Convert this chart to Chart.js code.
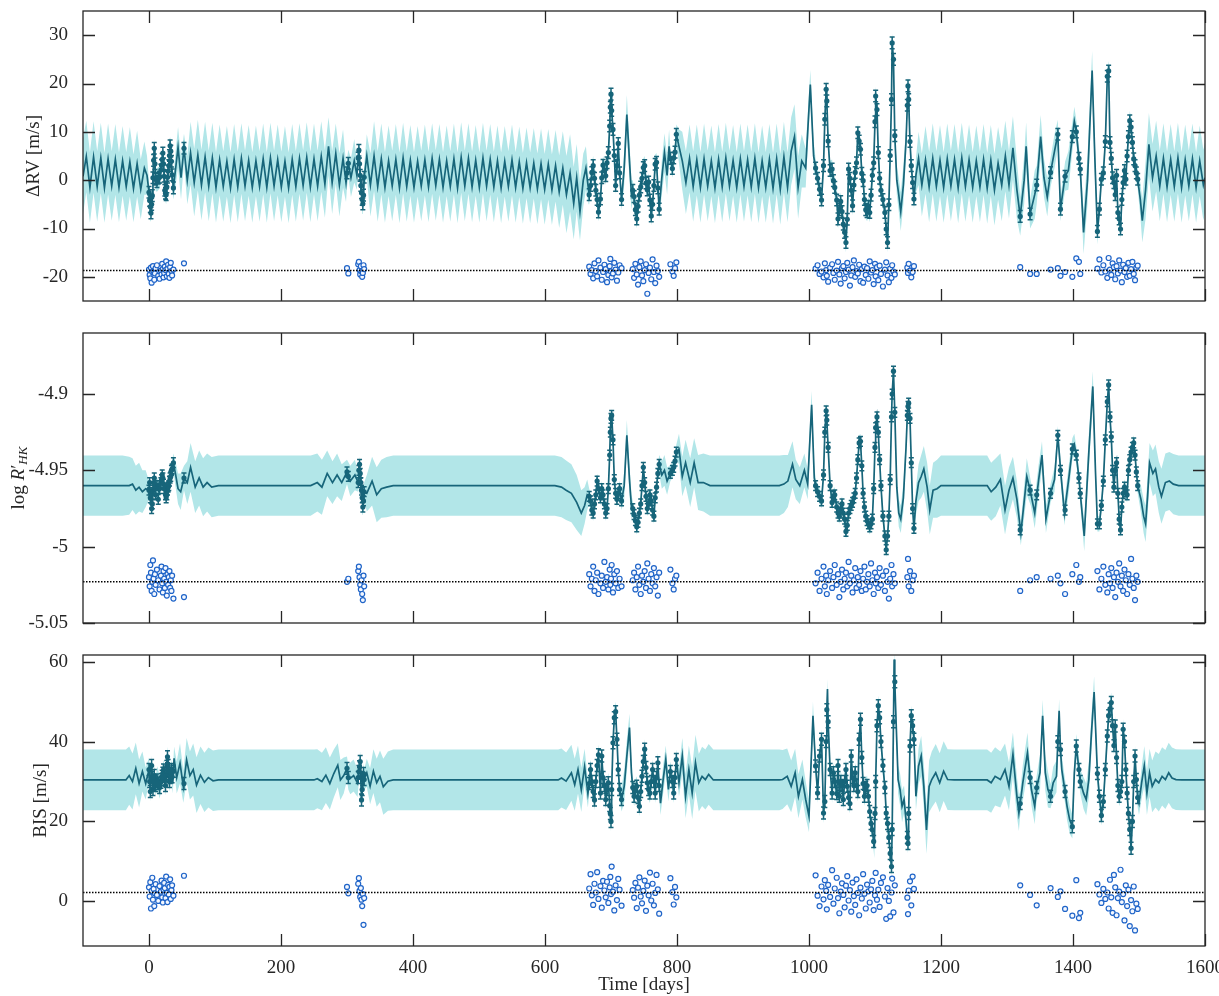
<!DOCTYPE html>
<html lang="en">
<head>
<meta charset="UTF-8">
<title>GP fit: RV, log R'HK, BIS</title>
<script src="https://cdn.jsdelivr.net/npm/chart.js"></script>
<style>
  body { margin: 0; background: #fff; }
  #wrap { position: relative; width: 1219px; height: 996px; }
  canvas { position: absolute; left: 0; }
</style>
</head>
<body>
<div id="wrap">
  <canvas id="c1" width="1219" height="322" style="top:0px"></canvas>
  <canvas id="c2" width="1219" height="322" style="top:322px"></canvas>
  <canvas id="c3" width="1219" height="352" style="top:644px"></canvas>
</div>
<script>
// ---- axes ----
const xTicks = [0, 200, 400, 600, 800, 1000, 1200, 1400, 1600];
const rvTicks = [-20, -10, 0, 10, 20, 30];
const rhkTicks = [-5.05, -5, -4.95, -4.9];
const bisTicks = [0, 20, 40, 60];

// ---- observation epochs (days) ----
const obsT = [
  0,1,2,3,4,5,6,7,8,9,10,12,14,16,18,19,20,21,22,23,24,25,26,27,28,29,30,31,32,33,34,35,37,53,
  300,302,317,318,319,320,321,322,323,324,325,326,
  667,669,671,673,675,677,679,681,684,686,688,690,692,694,696,698,699,700,701,703,705,707,709,711,713,716,
  733,735,737,739,741,743,745,747,749,751,753,755,757,759,761,763,765,767,769,771,773,
  790,793,795,797,799,
  1010,1013,1016,1019,1022,1024,1026,1027,1029,1032,1035,1037,1039,1042,1044,1046,1048,1050,1052,1054,
  1056,1058,1060,1062,1064,1066,1068,1070,1072,1074,1076,1078,1080,1082,1084,1086,1088,1090,1092,1094,
  1096,1098,1100,1101,1103,1105,1107,1109,1112,1115,1117,1119,1121,1123,1125,1126,1128,1130,
  1149,1150,1151,1153,1155,1157,1159,
  1320,1335,1345,1366,1377,1381,1388,1399,1405,1409,1411,
  1437,1440,1443,1446,1449,1452,1454,1456,1458,1460,1462,1464,1466,1468,1470,1472,1474,1476,1478,1480,
  1482,1484,1486,1488,1490,1492,1494,1496,1498
];

// ---- RV panel ----
const rvObs = [
  -2.5,-4.2,-5.5,-6.8,-5.0,-3.2,0.5,4.1,6.6,3.4,0.2,-0.3,0.4,0.6,2.1,3.1,4.3,5.6,3.4,0.8,-2.1,-2.7,-3.0,-1.4,0.6,1.9,3.0,5.1,7.1,6.0,3.9,1.1,-1.6,6.6,
  1.5,3.5,4.6,6.2,3.4,1.0,-1.1,-2.6,-4.0,-4.9,-3.1,0.6,
  -3.0,-1.1,1.6,3.0,0.4,-2.1,-4.0,-6.6,-3.9,0.5,3.1,2.0,0.9,3.6,5.7,11.2,15.1,17.8,14.4,10.5,5.1,-1.1,3.0,7.6,1.5,-4.0,
  -2.1,-3.4,-6.1,-8.0,-5.4,-3.1,-1.4,0.4,2.6,3.0,-0.6,-2.0,-0.4,-4.1,-7.4,-5.0,-1.1,3.3,3.7,-1.6,-6.0,
  4.5,2.4,4.6,5.8,9.5,
  2.5,0.4,-1.9,-4.1,3.0,12.6,18.8,16.4,8.1,2.0,2.3,-0.1,-1.5,-4.1,-8.0,-6.1,-4.4,-6.5,-9.1,-10.8,
  -12.9,-8.1,2.3,0.4,-2.1,-5.3,-1.0,1.6,3.6,9.8,8.1,6.4,1.4,-0.1,-4.0,-6.1,-6.5,-5.4,-6.7,-3.1,
  1.0,3.6,12.1,17.4,14.6,5.7,0.4,-2.1,-4.0,-6.7,-10.1,-12.9,-5.1,5.1,16.7,28.4,25.0,9.2,
  15.5,19.5,16.7,8.0,3.0,-0.5,-3.9,
  -7.5,-7.0,-1.0,1.6,9.5,-6.0,0.8,9.0,10.0,4.5,2.3,
  -10.6,-6.0,0.2,1.5,8.0,21.5,22.6,7.8,4.5,0.5,-0.5,-3.0,1.0,-6.7,-8.0,-10.1,-4.0,-0.5,2.0,0.2,
  5.0,9.0,12.3,11.0,7.8,4.4,3.0,1.5,0.2
];
const rvRes = [
  -18.5,-19.6,-20.3,-18.1,-21.2,-19.0,-17.8,-18.9,-20.6,-19.3,-18.2,-17.6,-19.8,-20.4,-18.7,-19.5,-17.3,-18.4,-20.1,-19.2,-17.9,-18.6,-16.8,-19.9,-18.3,-17.5,-19.4,-20.2,-18.0,-17.1,-18.8,-19.7,-18.5,-17.2,
  -18.2,-19.3,-17.4,-16.9,-18.6,-19.5,-17.8,-18.9,-20.0,-19.2,-17.6,-18.4,
  -17.9,-19.4,-18.6,-20.3,-17.2,-18.8,-19.9,-16.6,-18.1,-20.6,-19.0,-17.5,-18.4,-21.1,-19.6,-17.8,-16.3,-18.9,-20.1,-19.3,-17.1,-18.5,-20.8,-19.1,-17.6,-18.2,
  -18.4,-20.2,-17.3,-19.5,-21.6,-18.0,-16.8,-19.7,-20.9,-18.6,-17.4,-23.5,-19.2,-18.1,-20.5,-16.4,-19.0,-21.3,-17.7,-18.8,-20.0,
  -17.4,-18.9,-19.8,-18.2,-17.0,
  -18.3,-17.6,-19.4,-18.9,-20.1,-17.2,-18.6,-19.8,-21.0,-18.1,-17.4,-19.2,-20.6,-18.7,-16.9,-19.5,-21.4,-18.2,-17.8,-20.3,
  -19.0,-17.1,-18.5,-21.8,-19.7,-18.0,-16.6,-20.0,-18.8,-19.3,-17.5,-20.9,-18.4,-21.2,-17.9,-19.6,-18.2,-20.4,-16.8,-19.1,
  -18.6,-21.5,-17.3,-19.9,-18.0,-20.7,-17.7,-19.4,-22.0,-18.5,-17.0,-19.7,-21.1,-18.3,-20.2,-17.6,-18.9,-19.5,
  -18.1,-19.2,-17.3,-18.7,-20.1,-19.0,-17.8,
  -18.0,-19.4,-19.4,-18.5,-18.2,-19.8,-19.0,-20.0,-16.2,-16.9,-19.4,
  -18.3,-16.4,-19.1,-17.6,-18.9,-20.2,-16.1,-18.5,-19.6,-17.2,-18.0,-20.5,-17.8,-19.3,-16.6,-18.7,-21.1,-17.5,-19.0,-18.2,
  -20.0,-17.1,-19.8,-18.4,-16.9,-19.4,-20.7,-18.1,-17.7
];
// GP prediction: time, mean, 1-sigma half width
const rvT = [
  -100,-95,-89.5,-84,-78.5,-73,-67.5,-62,-56.5,-51,-45.5,-40,-34.5,-29,-23.5,-18,-12.5,-7,-3,
  0,1,2,3,4,5,6,7,8,9,10,12,14,16,18,20,21,22,24,26,28,30,32,33,35,37,40,44,48.5,53,58,63,68.5,
  74,79.5,85,90.5,96,101.5,107,112.5,118,123.5,129,134.5,140,145.5,151,156.5,162,167.5,173,178.5,184,189.5,195,200.5,206,211.5,217,222.5,228,233.5,239,244.5,250,255.5,261,266.5,272,277.5,283,288.5,294,
  298.5,300,302,306,311,315,317,318,319,320,321,322,323,324,325,326,330,335.5,
  341,346.5,352,357.5,363,368.5,374,379.5,385,390.5,396,401.5,407,412.5,418,423.5,429,434.5,440,445.5,451,456.5,462,467.5,473,478.5,484,489.5,495,500.5,
  506,511.5,517,522.5,528,533.5,539,544.5,550,555.5,561,566.5,572,577.5,583,588.5,594,599.5,605,610.5,616,621.5,627,632.5,638,
  643.5,648,653,658,662,666,667,669,671,673,675,677,679,681,684,686,688,690,692,694,696,698,699,700,701,703,705,707,709,711,
  713,716,720,724,728,731,733,735,737,739,741,743,745,747,749,751,753,755,757,759,761,763,765,767,769,771,773,777,781,785,788,790,793,795,797,799,803,
  808,813.5,819,824.5,830,835.5,841,846.5,852,857.5,863,868.5,874,879.5,885,890.5,896,901.5,907,912.5,918,923.5,929,934.5,940,945.5,951,956.5,962,967.5,973,978,
  983.5,989,995,1002,1007,1010,1013,1016,1019,1022,1024,1026,1027,1029,1032,1035,1037,1039,1042,1044,1046,1048,1050,1052,1054,1056,1058,1060,1062,1064,
  1066,1068,1070,1072,1074,1076,1078,1080,1082,1084,1086,1088,1090,1092,1094,1096,1098,1100,1101,1103,1105,1107,1109,1112,1115,1117,1119,1121,1123,1125,
  1126,1128,1130,1133,1136,1139,1143,1147,1149,1150,1151,1153,1155,1157,1159,1162,1166,
  1171,1176.5,1182,1187.5,1193,1198.5,1204,1209.5,1215,1220.5,1226,1231.5,1237,1242.5,1248,1253.5,1259,1264.5,1270,1275.5,1281,1286.5,1292,1297.5,
  1303,1309,1315,1320,1326,1329,1335,1342,1345,1351,1356,1361,1366,1372,1377,1381,1388,1393,1399,1402,1405,1409,1411,1416,1422,1429,1433,1437,1440,1443,
  1446,1449,1452,1454,1456,1458,1460,1462,1464,1466,1468,1470,1472,1474,1476,1478,1480,1482,1484,1486,1488,1490,1492,1494,1496,1498,1502,1505,1510,
  1515,1520.5,1526,1531.5,1537,1542.5,1548,1553.5,1559,1564.5,1570,1575.5,1581,1586.5,1592,1597.5,1600
];
const rvM = [
  0.8,4.9,-1.5,4.8,-1.3,4.6,-1.6,4.4,-1.2,4.3,-1.5,4.0,-1.3,3.8,-1.7,3.4,-1.9,2.5,1.0,
  -2.5,-4.0,-5.5,-6.5,-5.0,-3.0,0.5,4.0,6.5,3.5,0.0,0.0,0.3,0.5,2.2,4.3,5.5,3.5,-2.0,-3.0,0.5,3.0,7.0,6.0,1.0,-1.5,2.0,6.8,0.5,6.6,0.0,5.6,-0.5,
  5.2,-1.0,4.8,-1.2,4.6,-1.5,4.2,-1.3,3.9,-1.6,4.3,-1.4,4.5,-1.2,4.1,-1.5,4.0,-1.3,4.4,-1.5,4.6,-1.2,4.2,-1.4,3.9,-1.6,4.3,-1.3,4.5,-1.1,4.7,-1.4,4.4,-1.2,4.9,-0.8,7.0,-0.5,5.5,-1.0,4.5,
  -0.5,1.5,3.5,0.5,4.0,1.0,4.5,6.0,3.5,1.0,-1.0,-2.5,-4.0,-5.0,-3.0,0.5,5.0,-1.0,
  5.0,-1.3,4.4,-1.5,4.0,-1.2,4.3,-1.6,4.6,-1.3,4.1,-1.5,3.9,-1.2,4.2,-1.4,4.5,-1.1,4.3,-1.5,4.0,-1.3,4.4,-1.6,4.7,-1.2,4.5,-1.4,4.1,-1.5,
  4.6,-1.2,4.3,-1.4,4.0,-1.6,3.9,-1.3,4.2,-1.5,3.8,-1.7,3.6,-1.6,3.5,-1.8,3.4,-1.9,3.3,-2.0,3.0,-2.4,2.5,-3.0,1.5,
  -4.8,0.5,-6.5,0.0,2.5,-2.0,-3.0,-1.0,1.5,3.0,0.5,-2.0,-4.0,-6.5,-4.0,0.5,3.0,2.0,1.0,3.5,5.7,11.0,15.0,17.8,14.5,10.5,5.0,-1.0,3.0,7.5,
  1.6,-4.0,2.5,13.6,4.0,-3.0,-2.0,-3.5,-6.0,-8.0,-5.5,-3.0,-1.5,0.5,2.5,3.0,-0.5,-2.0,-0.5,-4.0,-7.4,-5.0,-1.0,3.3,3.6,-1.5,-6.0,0.5,5.7,1.0,7.0,4.5,2.5,4.5,5.7,9.5,7.0,
  4.0,-0.5,4.5,-1.3,4.2,-1.5,4.4,-1.2,4.0,-1.6,4.3,-1.4,4.6,-1.2,4.1,-1.5,4.4,-1.3,4.2,-1.4,4.5,-1.6,4.0,-1.5,4.3,-1.7,4.4,-1.9,4.8,-1.5,6.0,9.0,
  -1.5,4.0,2.5,19.8,5.0,2.5,0.5,-1.9,-4.0,3.0,12.6,18.8,16.5,8.0,2.0,2.3,0.0,-1.5,-4.0,-8.0,-6.0,-4.5,-6.5,-9.0,-10.8,-12.9,-8.0,2.3,0.5,-2.0,
  -5.3,-1.0,1.5,3.6,9.8,8.0,6.4,1.5,0.0,-4.0,-6.0,-6.5,-5.5,-6.7,-3.0,1.0,3.6,12.0,17.4,14.7,5.7,0.5,-2.0,-4.0,-6.7,-10.0,-12.9,-5.0,5.0,16.7,
  28.4,25.0,9.2,0.0,-3.0,-6.5,-1.0,8.0,15.5,19.5,16.7,8.0,3.0,-0.5,-3.9,1.0,4.5,
  -1.0,4.2,-1.4,4.5,-1.3,4.1,-1.5,4.4,-1.2,4.3,-1.6,4.6,-1.3,4.2,-1.5,4.0,-1.4,4.3,-1.7,4.1,-2.0,3.5,-1.0,5.0,
  -1.0,6.7,-2.0,-7.5,0.0,7.0,-7.0,-3.0,-1.0,9.0,0.5,-3.5,1.6,6.0,9.5,-6.0,0.8,2.0,9.0,12.2,10.0,4.5,2.3,-10.8,0.0,22.7,5.0,-10.8,-6.0,0.2,
  1.5,8.0,21.5,22.6,7.8,4.5,0.5,-0.5,-3.0,1.0,-6.7,-8.0,-10.1,-4.0,-0.5,2.0,0.2,5.0,9.0,12.3,11.0,7.8,4.4,3.0,1.5,0.2,-4.0,-8.4,-2.0,
  7.4,0.5,5.0,-1.2,4.5,-1.4,4.3,-1.3,4.6,-1.5,4.2,-1.2,4.4,-1.5,4.0,-1.0,0.5
];
const rvS = [
  7.8,7.4,7.3,7.4,7.3,7.3,7.2,7.3,7.2,7.3,7.2,7.2,7.1,7.2,7.0,6.8,6.2,5.5,4.0,
  2.2,2,2,2,2,2,2,2,2,2,2.2,2.4,2.4,2.2,2,2,2,2,2,2,2,2,2,2,2.2,2.5,3.5,4.2,4.5,3,5,6.5,7,
  7.3,7.3,7.3,7.3,7.3,7.3,7.3,7.3,7.3,7.3,7.3,7.3,7.3,7.3,7.3,7.3,7.3,7.3,7.3,7.3,7.3,7.3,7.3,7.3,7.3,7.3,7.3,7.3,7.3,7.3,7.3,7.3,7.3,7.3,7.3,7.0,6.0,6.5,6.2,6.5,6.0,
  4,3,2.8,4,4.5,3,2,2,2,2,2,2,2,2,2,2.5,4.5,6.5,
  7.2,7.3,7.3,7.3,7.3,7.3,7.3,7.3,7.3,7.3,7.3,7.3,7.3,7.3,7.3,7.3,7.3,7.3,7.3,7.3,7.3,7.3,7.3,7.3,7.3,7.3,7.3,7.3,7.3,7.3,
  7.3,7.3,7.3,7.3,7.3,7.3,7.3,7.3,7.3,7.3,7.3,7.3,7.3,7.3,7.3,7.3,7.3,7.3,7.3,7.3,7.4,7.5,7.6,8.0,8.0,
  7.5,7.0,6.0,5.5,4.5,3.0,2,2,2,2,2,2,2,2,2,2,2,2,2,2,2,2,2,2,2,2,2,2,2,2,
  2,2.2,3.5,4,4,3,2,2,2,2,2,2,2,2,2,2,2,2,2,2,2,2,2,2,2,2,2,3.5,4,4,3.5,2,2,2,2,2,3.5,
  6.0,6.5,7.0,7.3,7.3,7.3,7.3,7.3,7.3,7.3,7.3,7.3,7.3,7.3,7.3,7.3,7.3,7.3,7.3,7.3,7.3,7.3,7.3,7.3,7.3,7.3,7.3,7.3,7.3,7.2,7.0,6.7,
  6.5,5.5,4.0,3.0,3.0,2,2,2,2,2,2,2,2,2,2,2,2,2,2,2,2,2,2,2,2,2,2,2,2,2,
  2,2,2,2,2,2,2,2,2,2,2,2,2,2,2,2,2,2,2,2,2,2,2,2,2,2,2,2,2,2,
  2,2,2,3,3.5,4,4,3,2,2,2,2,2,2,2,3.5,5.5,
  6.5,7.0,7.3,7.3,7.3,7.3,7.3,7.3,7.3,7.3,7.3,7.3,7.3,7.3,7.3,7.3,7.3,7.3,7.3,7.3,7.4,7.5,7.5,7.3,
  7.0,6.5,6.0,4.0,5.0,5.0,3.0,5.0,4.0,4.5,4.0,4.0,3.0,3.5,3.0,2.5,3.0,4.0,3.0,3.0,2.5,2.5,2.5,4.5,5.0,4.0,4.0,2.5,2,2,
  2,2,2,2,2,2,2,2,2,2,2,2,2,2,2,2,2,2,2,2,2,2,2,2,2,2,3.5,4.5,6.0,
  6.5,7.0,7.3,7.3,7.3,7.3,7.3,7.3,7.3,7.3,7.3,7.3,7.3,7.3,7.3,7.3,7.3
];

// ---- log R'HK panel ----
const rhkObs = [
  -4.963,-4.958,-4.968,-4.966,-4.975,-4.972,-4.963,-4.958,-4.955,-4.962,-4.966,-4.960,-4.969,-4.962,-4.958,-4.956,-4.953,-4.955,-4.959,-4.962,
  -4.962,-4.966,-4.968,-4.966,-4.963,-4.961,-4.960,-4.957,-4.955,-4.954,-4.950,-4.949,-4.945,-4.955,
  -4.951,-4.954,-4.958,-4.950,-4.946,-4.952,-4.958,-4.963,-4.968,-4.974,-4.970,-4.964,
  -4.967,-4.970,-4.976,-4.978,-4.972,-4.966,-4.957,-4.962,-4.968,-4.962,-4.966,-4.972,-4.978,-4.975,-4.962,-4.940,-4.925,-4.916,-4.914,-4.930,
  -4.956,-4.965,-4.969,-4.965,-4.962,-4.970,
  -4.975,-4.979,-4.983,-4.987,-4.984,-4.978,-4.972,-4.960,-4.948,-4.958,-4.967,-4.975,-4.972,-4.966,-4.970,-4.976,-4.980,-4.968,-4.961,-4.952,-4.946,
  -4.952,-4.950,-4.948,-4.944,-4.938,
  -4.960,-4.964,-4.967,-4.970,-4.953,-4.925,-4.911,-4.917,-4.935,-4.960,-4.971,-4.967,-4.966,-4.974,-4.978,-4.980,-4.975,-4.972,-4.978,-4.982,
  -4.990,-4.986,-4.978,-4.975,-4.973,-4.971,-4.968,-4.965,-4.955,-4.943,-4.932,-4.931,-4.947,-4.965,-4.974,-4.980,-4.983,-4.985,-4.987,-4.985,
  -4.982,-4.962,-4.935,-4.922,-4.915,-4.925,-4.943,-4.960,-4.980,-4.993,-5.002,-4.993,-4.980,-4.956,-4.915,-4.900,-4.885,-4.912,
  -4.914,-4.908,-4.906,-4.916,-4.945,-4.975,-4.988,
  -4.989,-4.963,-4.966,-4.965,-4.927,-4.950,-4.976,-4.936,-4.940,-4.955,-4.965,
  -4.985,-4.985,-4.973,-4.957,-4.930,-4.905,-4.894,-4.915,-4.928,-4.950,-4.961,-4.950,-4.945,-4.965,-4.982,-4.989,-4.974,-4.965,-4.961,-4.964,
  -4.966,-4.950,-4.943,-4.938,-4.935,-4.932,-4.940,-4.951,-4.960
];
const rhkRes = [
  -5.020,-5.026,-5.012,-5.017,-5.029,-5.023,-5.009,-5.021,-5.031,-5.018,-5.025,-5.015,-5.022,-5.028,-5.019,-5.013,-5.024,-5.030,-5.016,-5.021,
  -5.027,-5.014,-5.023,-5.032,-5.018,-5.025,-5.020,-5.016,-5.027,-5.022,-5.029,-5.019,-5.034,-5.033,
  -5.023,-5.021,-5.016,-5.013,-5.020,-5.025,-5.028,-5.022,-5.031,-5.035,-5.019,-5.026,
  -5.018,-5.026,-5.021,-5.013,-5.029,-5.022,-5.017,-5.031,-5.024,-5.019,-5.027,-5.010,-5.023,-5.020,-5.028,-5.015,-5.025,-5.021,-5.012,-5.030,
  -5.018,-5.024,-5.016,-5.027,-5.021,-5.026,
  -5.022,-5.017,-5.028,-5.020,-5.013,-5.025,-5.031,-5.019,-5.023,-5.016,-5.027,-5.011,-5.021,-5.029,-5.018,-5.024,-5.014,-5.026,-5.020,-5.032,-5.017,
  -5.015,-5.024,-5.028,-5.021,-5.019,
  -5.024,-5.017,-5.029,-5.021,-5.013,-5.026,-5.019,-5.031,-5.022,-5.016,-5.027,-5.020,-5.012,-5.025,-5.018,-5.033,-5.023,-5.015,-5.028,-5.021,
  -5.017,-5.026,-5.010,-5.024,-5.019,-5.030,-5.022,-5.014,-5.027,-5.020,-5.025,-5.016,-5.029,-5.021,-5.013,-5.028,-5.023,-5.018,-5.026,-5.011,
  -5.022,-5.031,-5.017,-5.024,-5.020,-5.027,-5.014,-5.025,-5.019,-5.029,-5.016,-5.023,-5.034,-5.021,-5.012,-5.026,-5.018,-5.024,
  -5.020,-5.008,-5.026,-5.016,-5.029,-5.022,-5.019,
  -5.029,-5.022,-5.020,-5.021,-5.019,-5.024,-5.031,-5.018,-5.012,-5.023,-5.020,
  -5.016,-5.028,-5.021,-5.013,-5.025,-5.030,-5.018,-5.024,-5.014,-5.027,-5.020,-5.033,-5.017,-5.023,-5.011,-5.026,-5.019,-5.029,-5.015,-5.022,
  -5.031,-5.018,-5.025,-5.008,-5.021,-5.027,-5.035,-5.019,-5.023
];
const rhkT = [
  -100,-40,-30,-25,-20,-15,-10,-5,0,3,5,7,9,12,15,18,21,24,27,30,33,35,37,40,44,48,53,58,63,70,
  76,82,88,95,105,245,255,262,270,278,285,292,300,305,312,317,318,319,320,321,322,323,324,325,326,330,338,345,352,360,
  370,615,625,632,640,648,655,660,664,667,669,671,673,675,677,679,681,684,686,688,690,692,694,696,698,699,700,701,703,705,
  707,709,711,713,716,720,724,728,731,733,735,737,739,741,743,745,747,749,751,753,755,757,759,761,763,765,767,769,771,773,
  777,781,785,790,793,795,797,799,803,808,813,820,826,832,840,850,955,962,968,975,980,986,993,998,1004,1008,1010,1013,1016,1019,
  1022,1024,1026,1027,1029,1032,1035,1037,1039,1042,1044,1046,1048,1050,1052,1054,1056,1058,1060,1062,1064,1066,1068,1070,1072,1074,1076,1078,1080,1082,
  1084,1086,1088,1090,1092,1094,1096,1098,1100,1101,1103,1105,1107,1109,1112,1115,1117,1119,1121,1123,1125,1126,1128,1130,1133,1136,1139,1143,1147,1149,
  1150,1151,1153,1155,1157,1159,1162,1166,1170,1174,1179,1183,1188,1194,1200,1270,1276,1283,1290,1297,1303,1309,1315,1321,1330,1336,1342,1348,1353,1359,
  1366,1372,1377,1382,1387,1394,1399,1402,1405,1409,1411,1417,1424,1430,1434,1437,1440,1443,1446,1449,1452,1454,1456,1458,1460,1462,1464,1466,1468,1470,
  1472,1474,1476,1478,1480,1482,1484,1486,1488,1490,1492,1494,1496,1498,1503,1507,1510,1513,1516,1521,1525,1530,1534,1540,1546,1552,1560,1600
];
const rhkM = [
  -4.960,-4.960,-4.960,-4.959,-4.963,-4.961,-4.964,-4.962,-4.963,-4.966,-4.972,-4.958,-4.962,-4.960,-4.964,-4.958,-4.955,-4.962,-4.966,-4.960,
  -4.954,-4.949,-4.945,-4.952,-4.962,-4.964,-4.955,-4.958,-4.948,-4.961,
  -4.955,-4.961,-4.958,-4.961,-4.960,-4.960,-4.958,-4.961,-4.952,-4.958,-4.953,-4.958,-4.951,-4.957,-4.953,-4.958,-4.950,-4.946,-4.952,-4.958,
  -4.963,-4.968,-4.974,-4.970,-4.964,-4.965,-4.957,-4.966,-4.962,-4.961,
  -4.960,-4.960,-4.961,-4.963,-4.965,-4.971,-4.978,-4.973,-4.966,-4.967,-4.970,-4.976,-4.978,-4.972,-4.966,-4.957,-4.962,-4.968,-4.962,-4.966,
  -4.972,-4.978,-4.975,-4.962,-4.940,-4.925,-4.916,-4.914,-4.930,-4.956,
  -4.965,-4.969,-4.965,-4.962,-4.970,-4.960,-4.927,-4.956,-4.974,-4.975,-4.979,-4.983,-4.987,-4.984,-4.978,-4.972,-4.960,-4.948,-4.958,-4.967,
  -4.975,-4.972,-4.966,-4.970,-4.976,-4.980,-4.968,-4.961,-4.952,-4.946,
  -4.953,-4.950,-4.957,-4.952,-4.950,-4.948,-4.944,-4.938,-4.936,-4.954,-4.945,-4.958,-4.945,-4.958,-4.958,-4.960,-4.960,-4.959,-4.957,-4.946,
  -4.956,-4.960,-4.950,-4.959,-4.907,-4.955,-4.960,-4.964,-4.967,-4.970,
  -4.953,-4.925,-4.911,-4.917,-4.935,-4.960,-4.971,-4.967,-4.966,-4.974,-4.978,-4.980,-4.975,-4.972,-4.978,-4.982,-4.990,-4.986,-4.978,-4.975,
  -4.973,-4.971,-4.968,-4.965,-4.955,-4.943,-4.932,-4.931,-4.947,-4.965,
  -4.974,-4.980,-4.983,-4.985,-4.987,-4.985,-4.982,-4.962,-4.935,-4.922,-4.915,-4.925,-4.943,-4.960,-4.980,-4.993,-5.002,-4.993,-4.980,-4.956,
  -4.915,-4.900,-4.885,-4.912,-4.961,-4.978,-4.982,-4.968,-4.935,-4.914,
  -4.908,-4.906,-4.916,-4.945,-4.975,-4.988,-4.970,-4.958,-4.954,-4.949,-4.961,-4.976,-4.963,-4.962,-4.960,-4.960,-4.964,-4.961,-4.956,-4.976,
  -4.963,-4.955,-4.969,-4.991,-4.954,-4.965,-4.978,-4.956,-4.940,-4.982,
  -4.965,-4.956,-4.927,-4.954,-4.978,-4.954,-4.936,-4.933,-4.940,-4.955,-4.965,-4.993,-4.938,-4.895,-4.950,-4.985,-4.985,-4.973,-4.957,-4.930,
  -4.905,-4.894,-4.915,-4.928,-4.950,-4.961,-4.950,-4.945,-4.965,-4.982,
  -4.989,-4.974,-4.965,-4.961,-4.964,-4.966,-4.950,-4.943,-4.938,-4.935,-4.932,-4.940,-4.951,-4.960,-4.969,-4.980,-4.985,-4.967,-4.945,-4.952,
  -4.949,-4.961,-4.967,-4.958,-4.957,-4.959,-4.960,-4.960
];
const rhkS = [
  .0197,.0197,.019,.017,.016,.016,.014,.012,.006,.005,.005,.005,.005,.006,.006,.005,.005,.005,.005,.005,
  .005,.005,.006,.008,.010,.012,.008,.014,.016,.017,.018,.019,.019,.0197,.0197,.0197,.019,.018,.015,.014,
  .014,.012,.008,.010,.010,.006,.005,.005,.005,.005,.005,.005,.005,.005,.006,.012,.016,.018,.019,.0197,
  .0197,.0197,.0197,.0195,.019,.018,.015,.012,.010,.005,.005,.005,.005,.005,.005,.005,.005,.005,.005,.005,
  .005,.005,.005,.005,.005,.005,.005,.005,.005,.005,.005,.005,.005,.005,.006,.009,.010,.010,.008,.005,
  .005,.005,.005,.005,.005,.005,.005,.005,.005,.005,.005,.005,.005,.005,.005,.005,.005,.005,.005,.006,
  .009,.010,.009,.005,.005,.005,.005,.005,.010,.013,.015,.016,.016,.018,.019,.0197,.0197,.019,.017,.015,
  .013,.012,.011,.010,.009,.008,.005,.005,.005,.005,.005,.005,.005,.005,.005,.005,.005,.005,.005,.005,
  .005,.005,.005,.005,.005,.005,.005,.005,.005,.005,.005,.005,.005,.005,.005,.005,.005,.005,.005,.005,
  .005,.005,.005,.005,.005,.005,.005,.005,.005,.005,.005,.005,.005,.005,.005,.005,.005,.005,.005,.005,
  .005,.005,.005,.005,.008,.009,.009,.009,.008,.005,.005,.005,.005,.005,.005,.005,.009,.012,.014,.015,
  .016,.016,.018,.019,.0197,.0197,.019,.019,.017,.016,.015,.014,.012,.008,.012,.008,.010,.010,.009,.009,
  .006,.008,.006,.007,.008,.009,.007,.007,.006,.006,.006,.010,.012,.010,.008,.005,.005,.005,.005,.005,
  .005,.005,.005,.005,.005,.005,.005,.005,.005,.005,.005,.005,.005,.005,.005,.005,.005,.005,.005,.005,
  .005,.005,.005,.005,.009,.011,.012,.013,.013,.015,.016,.017,.018,.019,.019,.0197,.0197,.0197
];

// ---- BIS panel ----
const bisObs = [
  33.0,30.0,27.5,31.0,34.0,31.0,28.0,30.0,31.5,30.0,29.0,30.4,29.5,28.5,29.8,30.5,31.3,32.1,32.9,31.6,
  30.3,29.0,31.4,33.8,36.2,34.0,32.0,30.0,31.0,32.0,33.0,31.2,32.6,29.5,
  33.3,31.0,31.0,32.5,33.7,35.0,31.0,25.4,28.0,30.5,32.0,30.5,
  29.5,33.0,30.0,27.5,25.4,30.0,34.0,36.7,27.1,36.4,31.0,29.0,25.5,28.0,29.7,24.0,22.0,20.0,28.0,39.7,
  46.0,47.5,40.6,33.0,28.0,25.5,
  28.5,26.3,28.0,28.8,26.0,23.8,27.5,31.3,35.0,38.1,33.5,29.7,28.0,27.1,30.0,33.0,30.0,27.1,31.0,34.7,29.0,
  32.5,30.0,27.1,31.0,35.5,
  33.9,27.1,36.4,40.6,22.1,25.0,40.0,48.0,45.0,33.0,27.1,32.2,30.0,27.0,34.0,26.3,30.0,29.0,25.5,30.0,
  33.0,28.8,26.0,24.5,36.4,31.0,29.0,32.2,29.0,27.5,40.6,45.6,36.0,29.5,26.3,28.5,29.0,26.3,22.5,19.5,
  17.9,15.0,22.0,30.0,44.0,49.0,46.0,40.0,34.0,28.5,22.1,19.5,16.0,12.0,8.7,18.0,45.0,55.0,
  16.0,14.5,22.0,38.9,46.5,44.0,40.6,
  24.5,31.0,28.5,26.3,40.0,38.0,27.5,18.7,38.9,33.0,30.0,
  32.0,26.3,21.5,25.0,33.0,41.4,46.5,48.2,49.8,44.0,39.0,43.9,36.0,29.0,26.3,27.5,30.0,43.1,40.0,33.0,
  27.1,22.0,18.0,13.3,20.0,30.0,36.4,30.5,26.0
];
const bisRes = [
  3.5,1.2,4.8,-1.8,2.6,5.9,0.4,3.1,-1.2,2.0,4.3,1.6,0.1,3.8,2.4,5.2,1.0,-0.3,2.9,4.6,
  3.3,0.8,6.2,2.1,-0.2,4.1,1.7,3.6,5.5,0.6,2.8,4.0,1.4,6.4,
  3.6,2.0,4.4,5.8,2.6,1.1,3.3,0.4,-1.2,1.8,-5.9,0.8,
  3.2,6.8,1.5,-0.9,4.4,2.2,7.3,0.6,3.8,-1.6,5.1,2.7,1.0,4.9,-0.4,3.5,6.1,1.8,8.7,2.4,-2.3,4.0,0.3,5.6,2.9,-1.1,
  2.8,0.9,4.6,-1.7,3.4,6.0,1.2,-0.5,2.6,5.2,-2.4,3.9,1.5,7.2,0.2,4.4,-1.0,2.1,6.6,3.0,-3.1,
  5.8,2.3,-0.8,3.6,1.0,
  6.5,1.4,-1.2,3.7,0.5,5.3,2.6,-2.0,4.1,1.1,7.8,-0.6,3.2,5.9,0.8,-3.0,2.4,4.5,1.6,-1.5,
  3.9,6.3,0.2,2.8,-2.6,4.7,1.3,-0.9,5.5,2.1,-3.5,3.4,0.7,6.8,1.9,-1.8,4.2,2.5,-0.3,3.0,
  5.1,-2.2,1.5,7.1,0.4,2.9,-1.4,4.6,6.0,1.2,-4.4,3.3,0.1,-3.8,2.2,5.7,-2.8,4.0,
  0.9,-3.2,2.7,5.0,-1.0,6.2,3.1,
  4.0,1.6,-1.0,3.3,1.1,2.5,-1.9,-3.6,5.3,-4.2,-2.9,
  4.3,1.7,-0.4,3.1,0.6,2.2,-1.8,5.4,1.0,-2.9,6.6,3.5,-3.5,0.8,2.4,7.9,-0.2,1.8,-4.8,4.0,
  -1.2,2.9,-6.2,0.3,-2.5,3.7,-7.3,-0.6,-1.9
];
const bisT = [
  -100,-35,-30,-25,-20,-15,-10,-5,0,2,4,6,8,10,13,16,19,22,25,28,31,34,36,38,42,47,52,57,62,67,
  72,78,84,90,97,105,250,255,262,268,274,280,286,290,295,300,302,305,310,316,318,320,321,322,323,324,325,326,330,335,
  340,345,350,355,362,370,620,625,632,640,645,650,655,660,665,667,669,671,673,675,677,679,681,684,686,688,690,692,694,696,
  698,700,701,703,705,707,709,711,713,716,720,724,728,731,733,735,737,739,741,743,745,747,749,751,753,755,757,759,761,763,
  765,767,769,771,773,775,779,783,787,790,793,795,797,799,803,808,813,818,823,828,833,838,843,848,855,955,960,967,973,979,
  984,990,995,1000,1006,1010,1013,1016,1019,1022,1024,1026,1027,1028,1029,1032,1035,1037,1039,1042,1044,1046,1048,1050,1052,1054,1056,1058,1060,1062,
  1064,1066,1068,1070,1072,1074,1076,1078,1080,1082,1084,1086,1088,1090,1092,1094,1096,1098,1099,1100,1101,1103,1105,1107,1109,1112,1115,1117,1119,1121,
  1123,1125,1126,1128,1129,1130,1132,1135,1138,1141,1144,1147,1149,1150,1151,1153,1155,1157,1159,1162,1166,1170,1174,1178,1182,1186,1192,1198,1204,1210,
  1220,1270,1276,1282,1290,1297,1303,1309,1315,1318,1320,1324,1331,1335,1337,1342,1345,1350,1354,1358,1362,1366,1370,1375,1377,1379,1381,1383,1388,1391,
  1395,1399,1402,1405,1409,1411,1416,1420,1424,1428,1432,1437,1440,1443,1446,1449,1452,1454,1456,1458,1460,1462,1464,1466,1468,1470,1472,1474,1476,1478,
  1480,1482,1484,1486,1488,1490,1492,1494,1496,1498,1500,1504,1508,1512,1516,1520,1525,1530,1535,1540,1545,1550,1556,1565,1600
];
const bisM = [
  30.4,30.4,31.5,30.0,33.3,29.5,32.5,29.5,33.0,27.5,34.0,28.0,31.5,29.0,31.0,28.5,30.5,32.9,29.0,36.2,
  30.0,33.0,29.5,35.8,31.0,34.6,28.7,35.4,31.5,33.0,29.1,31.6,29.8,31.0,30.2,30.4,30.4,30.7,30.0,31.6,
  29.5,32.0,34.1,30.4,31.5,33.3,31.0,30.8,31.5,29.6,32.5,35.0,31.0,25.4,28.0,30.5,32.0,30.5,32.2,28.8,
  32.6,29.7,31.3,28.7,30.1,30.4,30.4,30.9,30.1,32.2,29.2,33.0,27.9,33.7,27.0,29.5,33.0,30.0,27.5,25.4,
  30.0,34.0,36.7,27.1,36.4,31.0,29.0,25.5,28.0,29.7,24.0,20.0,28.0,39.7,46.0,47.5,40.6,33.0,28.0,25.5,
  28.8,36.4,43.5,32.2,28.5,26.3,28.0,28.8,26.0,23.8,27.5,31.3,35.0,38.1,33.5,29.7,28.0,27.1,30.0,33.0,
  30.0,27.1,31.0,34.7,29.0,24.6,30.5,35.5,28.0,32.5,30.0,27.1,31.0,35.5,29.7,36.4,26.3,33.0,27.1,34.7,
  29.7,31.3,30.5,31.8,30.4,30.4,30.5,31.3,28.8,32.2,26.3,30.5,25.5,21.3,46.5,33.9,27.1,36.4,40.6,22.1,
  25.0,40.0,48.0,53.2,45.0,33.0,27.1,32.2,30.0,27.0,34.0,26.3,30.0,29.0,25.5,30.0,33.0,28.8,26.0,24.5,
  36.4,31.0,29.0,32.2,29.0,27.5,40.6,45.6,36.0,29.5,26.3,28.5,29.0,26.3,22.5,19.5,17.9,15.0,13.3,22.0,
  30.0,44.0,49.0,46.0,40.0,34.0,28.5,22.1,19.5,16.0,12.0,8.7,18.0,45.0,60.6,55.0,44.8,30.5,28.0,23.8,
  25.5,20.4,16.0,14.5,22.0,38.9,46.5,44.0,40.6,26.3,33.9,36.4,28.8,17.9,28.8,30.5,32.2,29.7,32.6,30.5,
  30.4,30.4,29.7,31.3,30.5,33.0,28.8,36.8,26.3,22.1,24.5,29.7,37.2,31.0,28.0,23.8,28.5,32.2,46.5,32.2,
  28.0,26.3,29.7,31.3,40.0,47.7,38.0,33.0,27.5,23.8,20.4,18.7,32.2,38.9,33.0,30.0,27.1,25.5,30.5,42.3,
  52.4,32.0,26.3,21.5,25.0,33.0,41.4,46.5,48.2,49.8,44.0,39.0,43.9,36.0,29.0,26.3,27.5,30.0,43.1,40.0,
  33.0,27.1,22.0,18.0,13.3,20.0,30.0,36.4,30.5,26.0,24.6,29.7,33.9,27.1,32.2,28.8,30.5,29.7,31.3,30.5,
  32.2,30.9,30.5,30.4,30.4
];
const bisS = [
  7.6,7.6,7.3,7.0,6.5,6.0,5.0,4.0,3.0,2.5,2.5,2.5,2.5,2.5,2.8,2.8,2.5,2.5,2.5,2.5,
  2.5,2.5,2.5,3.0,4.0,5.0,4.0,5.5,6.0,6.5,7.0,7.2,7.4,7.5,7.6,7.6,7.6,7.4,7.2,7.0,
  6.5,6.0,5.5,5.0,4.5,3.0,3.0,4.0,4.0,3.5,2.5,2.5,2.5,2.5,2.5,2.5,2.5,2.5,3.5,4.5,
  5.5,6.0,6.5,7.0,7.4,7.6,7.6,7.4,7.2,7.0,6.5,6.0,5.5,4.5,3.5,2.5,2.5,2.5,2.5,2.5,
  2.5,2.5,2.5,2.5,2.5,2.5,2.5,2.5,2.5,2.5,2.5,2.5,2.5,2.5,2.5,2.5,2.5,2.5,2.5,3.0,
  4.0,4.0,3.5,3.0,2.5,2.5,2.5,2.5,2.5,2.5,2.5,2.5,2.5,2.5,2.5,2.5,2.5,2.5,2.5,2.5,
  2.5,2.5,2.5,2.5,2.5,3.0,3.5,3.5,3.0,2.5,2.5,2.5,2.5,2.5,3.5,4.5,5.5,6.0,6.5,7.0,
  7.2,7.4,7.5,7.6,7.6,7.6,7.4,7.0,6.5,6.0,5.5,5.0,4.5,4.0,3.5,2.5,2.5,2.5,2.5,2.5,
  2.5,2.5,2.5,2.5,2.5,2.5,2.5,2.5,2.5,2.5,2.5,2.5,2.5,2.5,2.5,2.5,2.5,2.5,2.5,2.5,
  2.5,2.5,2.5,2.5,2.5,2.5,2.5,2.5,2.5,2.5,2.5,2.5,2.5,2.5,2.5,2.5,2.5,2.5,2.5,2.5,
  2.5,2.5,2.5,2.5,2.5,2.5,2.5,2.5,2.5,2.5,2.5,2.5,2.5,2.5,2.5,2.5,3.0,3.5,4.0,4.0,
  3.5,3.0,2.5,2.5,2.5,2.5,2.5,2.5,2.5,3.5,4.5,5.0,5.5,6.0,6.5,7.0,7.2,7.4,7.5,7.6,
  7.6,7.6,7.5,7.3,7.0,6.5,6.0,5.5,5.0,4.5,3.0,4.5,5.0,3.0,4.0,4.5,3.0,4.5,4.0,4.5,
  4.5,3.0,4.0,4.0,3.0,3.0,3.0,3.5,3.0,3.5,3.5,3.0,3.0,3.0,3.0,3.0,4.0,4.0,4.5,4.5,
  4.0,2.5,2.5,2.5,2.5,2.5,2.5,2.5,2.5,2.5,2.5,2.5,2.5,2.5,2.5,2.5,2.5,2.5,2.5,2.5,
  2.5,2.5,2.5,2.5,2.5,2.5,2.5,2.5,2.5,2.5,3.0,4.0,5.0,5.5,6.0,6.5,7.0,7.2,7.3,7.4,
  7.5,7.6,7.6,7.6,7.6
];

// ---- check array lengths ----
[['rvObs',rvObs,obsT],['rvRes',rvRes,obsT],['rhkObs',rhkObs,obsT],['rhkRes',rhkRes,obsT],['bisObs',bisObs,obsT],['bisRes',bisRes,obsT],
 ['rvM',rvM,rvT],['rvS',rvS,rvT],['rhkM',rhkM,rhkT],['rhkS',rhkS,rhkT],['bisM',bisM,bisT],['bisS',bisS,bisT]]
 .forEach(([n, a, b]) => { if (a.length !== b.length) throw new Error(n + ' ' + a.length + ' vs ' + b.length); });

const BAND = '#b2e6e8';
const LINE = '#17657a';
const RESC = '#1f64c8';
const INK = '#262626';
const SERIF = "'Liberation Serif', 'Times New Roman', serif";

Chart.defaults.font.family = SERIF;
Chart.defaults.font.size = 19;
Chart.defaults.color = INK;

const pts = (T, V) => T.map((t, i) => ({ x: t, y: V[i] }));
const band = (T, M, S, k) => T.map((t, i) => ({ x: t, y: M[i] + k * S[i] }));

// inward ticks on all four sides + box
const framePlugin = {
  id: 'frame',
  afterDraw(chart) {
    const { ctx, chartArea: a, scales: { x, y } } = chart;
    const L = 12;
    ctx.save();
    ctx.strokeStyle = INK;
    ctx.lineWidth = 1.3;
    ctx.beginPath();
    xTicks.forEach(v => {
      const px = Math.round(x.getPixelForValue(v)) + 0.5;
      ctx.moveTo(px, a.top); ctx.lineTo(px, a.top + L);
      ctx.moveTo(px, a.bottom); ctx.lineTo(px, a.bottom - L);
    });
    y.ticks.forEach(t => {
      const py = Math.round(y.getPixelForValue(t.value)) + 0.5;
      ctx.moveTo(a.left, py); ctx.lineTo(a.left + L, py);
      ctx.moveTo(a.right, py); ctx.lineTo(a.right - L, py);
    });
    ctx.stroke();
    ctx.strokeRect(a.left, a.top, a.right - a.left, a.bottom - a.top);
    ctx.restore();
  }
};

// vertical error bars with small caps on the observed points
const errPlugin = {
  id: 'err',
  afterDatasetDraw(chart, args, opts) {
    const ds = chart.data.datasets[args.index];
    if (ds.label !== 'obs') return;
    const { ctx, chartArea: a, scales: { y } } = chart;
    ctx.save();
    ctx.beginPath();
    ctx.rect(a.left, a.top, a.right - a.left, a.bottom - a.top);
    ctx.clip();
    ctx.strokeStyle = LINE;
    ctx.lineWidth = 1.5;
    ctx.beginPath();
    args.meta.data.forEach((p, i) => {
      const v = ds.data[i].y;
      const y0 = y.getPixelForValue(v - opts.size), y1 = y.getPixelForValue(v + opts.size);
      ctx.moveTo(p.x, y0); ctx.lineTo(p.x, y1);
      ctx.moveTo(p.x - 2.5, y0); ctx.lineTo(p.x + 2.5, y0);
      ctx.moveTo(p.x - 2.5, y1); ctx.lineTo(p.x + 2.5, y1);
    });
    ctx.stroke();
    ctx.restore();
  }
};

// y label with italic R' and subscript HK
const rhkLabel = {
  id: 'rhkLabel',
  afterDraw(chart) {
    if (chart.canvas.id !== 'c2') return;
    const { ctx, chartArea: a } = chart;
    const parts = [
      ['log ', '19px ' + SERIF, 0],
      ['R', 'italic 19px ' + SERIF, 0],
      ['\u2032', '19px ' + SERIF, 0],
      ['HK', 'italic 13px ' + SERIF, 5]
    ];
    ctx.save();
    ctx.translate(19, (a.top + a.bottom) / 2);
    ctx.rotate(-Math.PI / 2);
    ctx.fillStyle = INK;
    ctx.textBaseline = 'middle';
    let w = 0;
    parts.forEach(p => { ctx.font = p[1]; w += ctx.measureText(p[0]).width; });
    let x = -w / 2;
    parts.forEach(p => { ctx.font = p[1]; ctx.fillText(p[0], x, p[2]); x += ctx.measureText(p[0]).width; });
    ctx.restore();
  }
};

function makePanel(id, p) {
  const bottom = !!p.xLabel;
  return new Chart(document.getElementById(id), {
    type: 'line',
    data: {
      datasets: [
        { label: 'base', data: [{ x: -100, y: p.base }, { x: 1600, y: p.base }], borderColor: '#000',
          borderWidth: 1.4, borderDash: [1.5, 1.5], pointRadius: 0, order: 1 },
        { label: 'res', data: pts(obsT, p.res), showLine: false, pointRadius: 2.5, pointBorderWidth: 1.2,
          pointBorderColor: RESC, pointBackgroundColor: '#f4f8ff', order: 2 },
        { label: 'obs', data: pts(obsT, p.obs), showLine: false, pointRadius: 2.6, pointBorderWidth: 0,
          pointBackgroundColor: LINE, order: 3 },
        { label: 'mean', data: pts(p.T, p.M), borderColor: LINE, borderWidth: 1.7, pointRadius: 0, order: 4 },
        { label: 'hi', data: band(p.T, p.M, p.S, 1), borderColor: 'transparent', borderWidth: 0, pointRadius: 0,
          fill: '+1', backgroundColor: BAND, order: 5 },
        { label: 'lo', data: band(p.T, p.M, p.S, -1), borderColor: 'transparent', borderWidth: 0, pointRadius: 0,
          fill: false, order: 6 }
      ]
    },
    options: {
      responsive: false,
      animation: false,
      devicePixelRatio: 1,
      layout: { padding: { left: 0, right: 14, top: 11, bottom: bottom ? 0 : 21 } },
      elements: { line: { tension: 0 } },
      plugins: { legend: { display: false }, tooltip: { enabled: false }, err: { size: p.err } },
      scales: {
        x: {
          type: 'linear', min: -100, max: 1600,
          grid: { display: false }, border: { display: false },
          afterBuildTicks: s => { s.ticks = xTicks.map(v => ({ value: v })); },
          afterFit: s => { s.height = bottom ? 50 : 0; s.paddingLeft = 0; s.paddingRight = 0; },
          ticks: { display: bottom, padding: 3, maxRotation: 0, autoSkip: false, callback: v => String(v) },
          title: { display: bottom, text: p.xLabel || '', padding: { top: 0, bottom: 0 } }
        },
        y: {
          type: 'linear', min: p.min, max: p.max,
          grid: { display: false }, border: { display: false },
          afterBuildTicks: s => { s.ticks = p.ticks.map(v => ({ value: v })); },
          afterFit: s => { s.width = 83; s.paddingTop = 0; s.paddingBottom = 0; },
          ticks: { padding: 7, autoSkip: false, callback: v => String(v) },
          title: { display: !!p.yLabel, text: p.yLabel || '', padding: { top: p.yPad || 20, bottom: 0 } }
        }
      }
    },
    plugins: [errPlugin, framePlugin, rhkLabel]
  });
}

makePanel('c1', { T: rvT, M: rvM, S: rvS, obs: rvObs, res: rvRes, base: -18.7, err: 1.2,
  min: -25, max: 35, ticks: rvTicks, yLabel: '\u0394RV [m/s]', yPad: 23 });
makePanel('c2', { T: rhkT, M: rhkM, S: rhkS, obs: rhkObs, res: rhkRes, base: -5.023, err: 0.0032,
  min: -5.05, max: -4.86, ticks: rhkTicks });
makePanel('c3', { T: bisT, M: bisM, S: bisS, obs: bisObs, res: bisRes, base: 2.2, err: 1.5,
  min: -11.2, max: 61.7, ticks: bisTicks, yLabel: 'BIS [m/s]', yPad: 30, xLabel: 'Time [days]' });
</script>
</body>
</html>
